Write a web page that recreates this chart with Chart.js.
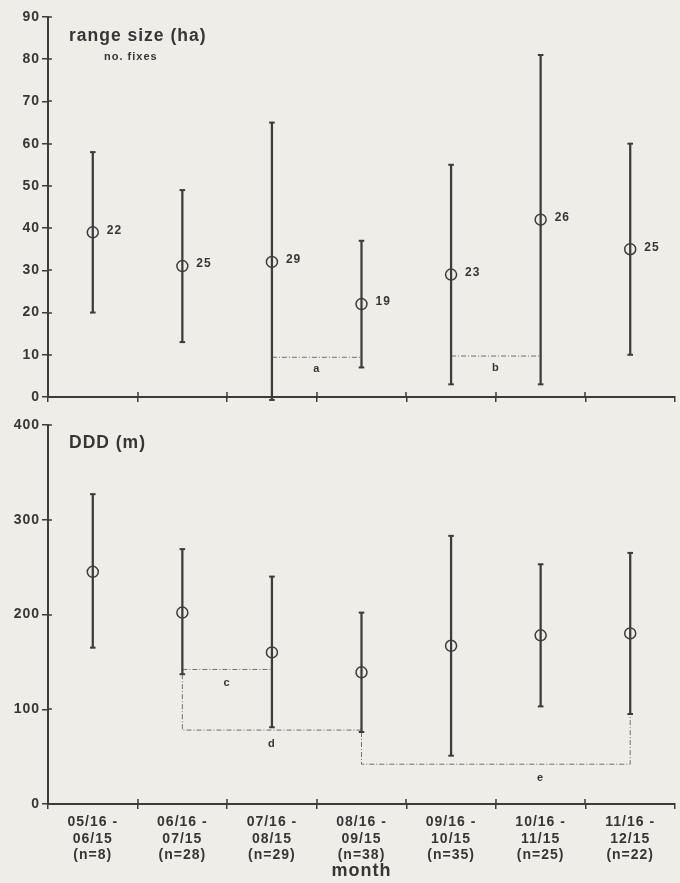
<!DOCTYPE html>
<html><head><meta charset="utf-8">
<script src="https://cdn.jsdelivr.net/npm/chart.js@4"></script>
<style>
html,body{margin:0;padding:0;width:680px;height:883px;overflow:hidden;background:#efede8;}
canvas{position:absolute;left:0;}
#c1{top:0}
#c2{top:410px}
</style></head><body>
<canvas id="c1" width="682" height="410"></canvas>
<canvas id="c2" width="682" height="473"></canvas>
<script>
// ---- data ----
const monthStart = ['05/16','06/16','07/16','08/16','09/16','10/16','11/16'];
const monthEnd   = ['06/15','07/15','08/15','09/15','10/15','11/15','12/15'];
const nIndividuals = [8,28,29,38,35,25,22];

const rangeMean = [39,31,32,22,29,42,35];
const rangeLow  = [20,13,-0.7,7,3,3,10];
const rangeHigh = [58,49,65,37,55,81,60];
const noFixes   = [22,25,29,19,23,26,25];

const dddMean = [245,202,160,139,167,178,180];
const dddLow  = [165,137,81,76,51,103,95];
const dddHigh = [327,269,240,202,283,253,265];

const rangeTicks = {max:90, step:10};
const dddTicks = {max:400, step:100};

const rangeBrackets = [
  {label:'a', from:2, to:3, level:9.4, labelAt:2.5},
  {label:'b', from:4, to:5, level:9.7, labelAt:4.5}
];
const dddBrackets = [
  {label:'c', from:1, to:2, level:142, labelAt:1.5},
  {label:'d', from:1, to:3, level:78, labelAt:2},
  {label:'e', from:3, to:6, level:42, labelAt:5}
];

const categories = monthStart.map((s,i)=>s+' - '+monthEnd[i]);

// ---- style ----
const INK='#3c3c3c', TEXT='#363636', DASH='#707070';
const FONT='"Liberation Sans", Arial, Helvetica, sans-serif';

const spacing = {
  id:'spacing',
  afterInit(c){ c.ctx.letterSpacing='1px'; },
  beforeUpdate(c){ c.ctx.letterSpacing='1px'; }
};

const crossTicks = {
  id:'crossTicks',
  afterDraw(c){
    const {ctx, chartArea:a, scales:{x,y}} = c;
    ctx.save(); ctx.strokeStyle=INK; ctx.lineWidth=1.5;
    ctx.beginPath();
    y.ticks.forEach(t=>{const p=Math.round(y.getPixelForValue(t.value)); ctx.moveTo(a.left,p); ctx.lineTo(a.left+4,p);});
    for(let i=1;i<categories.length;i++){const p=Math.round(x.getPixelForValue(i-0.5)); ctx.moveTo(p,a.bottom); ctx.lineTo(p,a.bottom-5);}
    ctx.stroke(); ctx.restore();
  }
};

function textPlugin(getItems){
  return {id:'texts', afterDatasetsDraw(c){
    const ctx=c.ctx; ctx.save(); ctx.fillStyle=TEXT; ctx.textBaseline='middle';
    getItems(c).forEach(it=>{ctx.font=it.font; ctx.textAlign=it.align||'left'; ctx.fillText(it.text,it.x,it.y);});
    ctx.restore();
  }};
}

function bracketDatasets(br, low){
  return br.map(b=>{
    const pts=[];
    if(low[b.from]>b.level) pts.push({x:categories[b.from], y:low[b.from]});
    pts.push({x:categories[b.from], y:b.level});
    pts.push({x:categories[b.to], y:b.level});
    if(low[b.to]>b.level) pts.push({x:categories[b.to], y:low[b.to]});
    return {type:'line', data:pts, borderColor:DASH, borderWidth:1, borderDash:[5,2,1,2],
            pointRadius:0, fill:false, tension:0, clip:false};
  });
}

function makeChart(canvas, o){
  return new Chart(canvas, {
    type:'bar',
    data:{labels:categories, datasets:[
      {type:'bar', data:o.low.map((l,i)=>[l,o.high[i]]), backgroundColor:INK, barThickness:1.6, borderWidth:0, clip:false},
      {type:'line', data:o.high, showLine:false, pointStyle:'line', pointRadius:2.8, pointBorderColor:INK, pointBorderWidth:2, clip:false},
      {type:'line', data:o.low, showLine:false, pointStyle:'line', pointRadius:2.8, pointBorderColor:INK, pointBorderWidth:2, clip:false},
      {type:'line', data:o.mean, showLine:false, pointStyle:'circle', pointRadius:5.5, pointBorderWidth:1.5, pointBorderColor:INK, pointBackgroundColor:'rgba(0,0,0,0)', clip:false},
      ...bracketDatasets(o.brackets, o.low)
    ]},
    options:{
      responsive:false, animation:false, devicePixelRatio:1, events:[],
      layout:{padding:{top:o.padTop,left:0,right:0,bottom:0}},
      plugins:{legend:{display:false}, tooltip:{enabled:false}},
      scales:{
        x:{
          grid:{display:true, drawOnChartArea:false, drawTicks:true, tickLength:5, color:INK, lineWidth:1.5, offset:true},
          border:{display:true, color:INK, width:2},
          ticks:{display:o.showX, autoSkip:false, maxRotation:0, minRotation:0, padding:5, color:TEXT,
                 font:{family:FONT, size:14, weight:'bold', lineHeight:1.18},
                 callback:(v,i)=>[monthStart[i]+' -', monthEnd[i], '(n='+nIndividuals[i]+')']},
          title:{display:o.showX, text:'month', color:TEXT, font:{family:FONT, size:18, weight:'bold', lineHeight:1.2}, padding:{top:0,bottom:1}},
          afterFit:s=>{s.height=o.xHeight;}
        },
        y:{
          min:0, max:o.ticks.max,
          ticks:{stepSize:o.ticks.step, padding:2, color:TEXT, font:{family:FONT, size:14, weight:'bold'}},
          grid:{drawOnChartArea:false, drawTicks:true, tickLength:6, color:INK, lineWidth:1.5},
          border:{display:true, color:INK, width:2},
          afterFit:s=>{s.width=48;}
        }
      }
    },
    plugins:[spacing, crossTicks, textPlugin(o.texts)]
  });
}

makeChart(document.getElementById('c1'), {
  mean:rangeMean, low:rangeLow, high:rangeHigh, brackets:rangeBrackets, ticks:rangeTicks,
  padTop:17, xHeight:13, showX:false,
  texts:c=>{
    const {x,y}=c.scales; const items=[];
    items.push({text:'range size (ha)', x:69, y:36, font:'bold 17.5px '+FONT});
    items.push({text:'no. fixes', x:104, y:57, font:'bold 11px '+FONT});
    noFixes.forEach((n,i)=>items.push({text:String(n), x:x.getPixelForValue(i)+14, y:y.getPixelForValue(rangeMean[i])-2, font:'bold 12px '+FONT}));
    rangeBrackets.forEach(b=>items.push({text:b.label, x:x.getPixelForValue(b.labelAt), y:y.getPixelForValue(b.level)+12, font:'bold 11px '+FONT, align:'center'}));
    return items;
  }
});

makeChart(document.getElementById('c2'), {
  mean:dddMean, low:dddLow, high:dddHigh, brackets:dddBrackets, ticks:dddTicks,
  padTop:15, xHeight:79, showX:true,
  texts:c=>{
    const {x,y}=c.scales; const items=[];
    items.push({text:'DDD (m)', x:69, y:33, font:'bold 17.5px '+FONT});
    dddBrackets.forEach(b=>items.push({text:b.label, x:x.getPixelForValue(b.labelAt), y:y.getPixelForValue(b.level)+14, font:'bold 11px '+FONT, align:'center'}));
    return items;
  }
});
</script>
</body></html>
